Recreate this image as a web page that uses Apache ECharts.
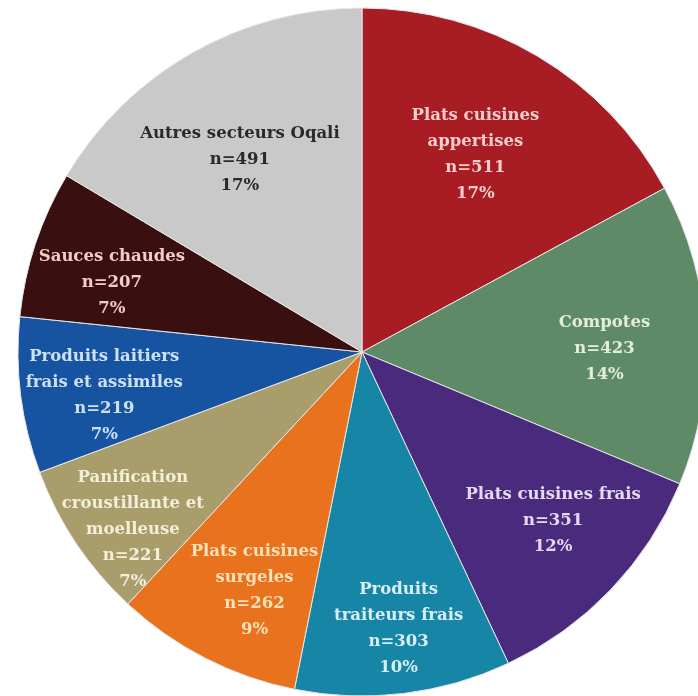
<!DOCTYPE html>
<html>
<head>
<meta charset="utf-8">
<script src="https://cdn.jsdelivr.net/npm/echarts@6/dist/echarts.min.js"></script>
<style>
html,body{margin:0;padding:0;background:#fff;}
#chart{width:698px;height:696px;}
</style>
</head>
<body>
<div id="chart"></div>
<script>
const categories = [
  "Plats cuisines\nappertises",
  "Compotes",
  "Plats cuisines frais",
  "Produits\ntraiteurs frais",
  "Plats cuisines\nsurgeles",
  "Panification\ncroustillante et\nmoelleuse",
  "Produits laitiers\nfrais et assimiles",
  "Sauces chaudes",
  "Autres secteurs Oqali"
];
const counts = [511, 423, 351, 303, 262, 221, 219, 207, 491];
const percentLabels = ["17%", "14%", "12%", "10%", "9%", "7%", "7%", "7%", "17%"];
const sliceColors = ["#a81c24", "#5f8a68", "#4a2a7c", "#1786a6", "#e8721e", "#a99d6c", "#1654a2", "#3a0f10", "#c9c9c9"];
const textColors = ["#f6cccc", "#e2eedc", "#e6d9f5", "#d8eef6", "#fbe0b8", "#f4efd8", "#cfe0f6", "#f2cdc4", "#2a2a2a"];
// label placement: distance from centre (fraction of radius) plus a small nudge in px
const labelRadius = [0.667, 0.70, 0.74, 0.81, 0.756, 0.84, 0.77, 0.76, 0.66];
const labelNudgeX = [-4, 2, 7, 3, 11, 11, 5, -2, -10];
const labelNudgeY = [0, 9, -7, 0, 7, 17, 10, 13, 5];

const chart = echarts.init(document.getElementById('chart'));
const R = 344;
const center = [362, 352];

const sliceData = categories.map((c, i) => ({
  name: c, value: counts[i],
  itemStyle: { color: sliceColors[i] },
  label: { color: textColors[i] }
}));

chart.setOption({
  animation: false,
  series: [
    {
      type: 'pie',
      center: center,
      radius: [0, R],
      startAngle: 90,
      clockwise: true,
      silent: true,
      avoidLabelOverlap: false,
      labelLine: { show: false },
      itemStyle: { borderColor: '#e6e6e6', borderWidth: 1 },
      label: {
        show: true,
        position: 'inside',
        fontFamily: 'DejaVu Serif',
        fontWeight: 'bold',
        fontSize: 16.5,
        lineHeight: 26,
        align: 'center',
        formatter: p => p.name + '\nn=' + counts[p.dataIndex] + '\n' + percentLabels[p.dataIndex]
      },
      labelLayout: function (params) {
        const i = params.dataIndex;
        const r = params.labelRect;
        const cx = r.x + r.width / 2, cy = r.y + r.height / 2;
        const vx = cx - center[0], vy = cy - center[1];
        const d = Math.sqrt(vx * vx + vy * vy) || 1;
        const k = labelRadius[i] * R / d - 1;
        return { dx: vx * k + labelNudgeX[i], dy: vy * k + labelNudgeY[i], hideOverlap: false };
      },
      data: sliceData
    }
  ]
});
</script>
</body>
</html>
